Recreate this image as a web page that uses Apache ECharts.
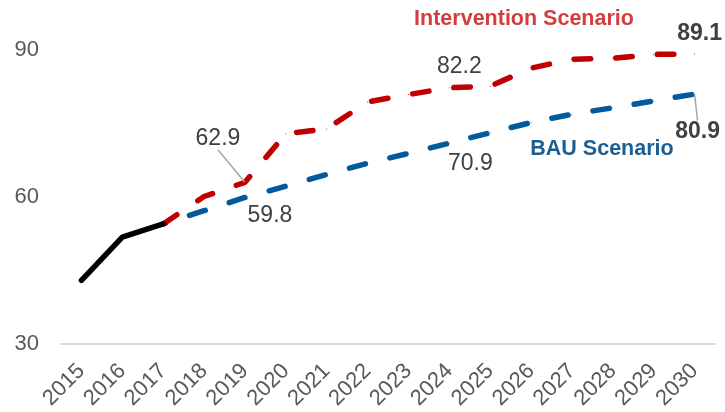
<!DOCTYPE html>
<html>
<head>
<meta charset="utf-8">
<script src="https://cdn.jsdelivr.net/npm/echarts@6/dist/echarts.min.js"></script>
<style>
html,body{margin:0;padding:0;background:#fff;}
#c{width:725px;height:412px;}
</style>
</head>
<body>
<div id="c"></div>
<script>
const years = ['2015','2016','2017','2018','2019','2020','2021','2022','2023','2024','2025','2026','2027','2028','2029','2030'];
const actual = [42.9, 51.7, 54.4, null, null, null, null, null, null, null, null, null, null, null, null, null];
const intervention = [null, null, 54.4, 60.0, 62.9, 72.8, 73.8, 79.3, 80.8, 82.2, 82.5, 86.2, 88.0, 88.2, 89.0, 89.1];
const bau = [null, null, 54.4, 57.1, 59.8, 62.1, 64.5, 66.8, 68.8, 70.9, 73.0, 75.1, 76.8, 78.1, 79.5, 80.9];
const yTicks = [30, 60, 90];
const seriesNames = ['Actual', 'Intervention Scenario', 'BAU Scenario'];

// label styling per labelled point (index -> offset, bold, leader line)
const redLabelStyle = {
  4: {off: [-27, -44], bold: false, line: true},
  9: {off: [10, -21], bold: false, line: false},
  15: {off: [5, -20], bold: true, line: false}
};
const blueLabelStyle = {
  4: {off: [25, 18], bold: false, line: false},
  9: {off: [21, 21], bold: false, line: false},
  15: {off: [3, 38], bold: true, line: true}
};

const FONT = 'Liberation Sans, Arial, sans-serif';
const RED = '#C00000';
const BLUE = '#005A9C';

function buildData(values, styles) {
  return values.map((v, i) => {
    const s = styles[i];
    if (v === null || !s) return v;
    return {
      value: v,
      label: {
        show: true,
        position: 'inside',
        formatter: v.toFixed(1),
        fontSize: 23,
        fontWeight: s.bold ? 'bold' : 'normal',
        color: '#404040',
        fontFamily: FONT
      },
      labelLine: {show: s.line, lineStyle: {color: '#A6A6A6', width: 1.5}}
    };
  });
}
function layoutFor(styles) {
  return function (p) {
    const s = styles[p.dataIndex];
    if (!s) return {};
    return {dx: s.off[0], dy: s.off[1]};
  };
}

const chart = echarts.init(document.getElementById('c'), null, {renderer: 'canvas'});
chart.setOption({
  animation: false,
  backgroundColor: '#ffffff',
  grid: {left: 61, right: 10, top: 49.5, bottom: 68.5, containLabel: false},
  xAxis: {
    type: 'category',
    data: years,
    boundaryGap: true,
    axisLine: {show: true, lineStyle: {color: '#D9D9D9', width: 2}},
    axisTick: {show: false},
    axisLabel: {rotate: 45, fontSize: 22, color: '#595959', margin: 24, fontFamily: FONT, interval: 0},
    splitLine: {show: false}
  },
  yAxis: {
    type: 'value',
    min: yTicks[0],
    max: yTicks[yTicks.length - 1],
    interval: 30,
    axisLine: {show: false},
    axisTick: {show: false},
    splitLine: {show: false},
    axisLabel: {fontSize: 22, color: '#595959', margin: 22, fontFamily: FONT}
  },
  graphic: [
    {type: 'text', x: 524, y: 19.5, style: {text: 'Intervention Scenario', fill: '#D43D3D', font: 'bold 21.5px ' + FONT, textAlign: 'center', textVerticalAlign: 'middle'}},
    {type: 'text', x: 602, y: 149.5, style: {text: 'BAU Scenario', fill: '#1B5E91', font: 'bold 21.5px ' + FONT, textAlign: 'center', textVerticalAlign: 'middle'}}
  ],
  series: [
    {
      name: seriesNames[2],
      type: 'line',
      data: buildData(bau, blueLabelStyle),
      symbol: 'circle', symbolSize: 1, showSymbol: true,
      itemStyle: {color: BLUE},
      lineStyle: {color: BLUE, width: 5.5, type: [16.5, 25.2], dashOffset: 14, cap: 'round'},
      labelLayout: layoutFor(blueLabelStyle),
      z: 2
    },
    {
      name: seriesNames[1],
      type: 'line',
      data: buildData(intervention, redLabelStyle),
      symbol: 'circle', symbolSize: 1, showSymbol: true,
      itemStyle: {color: RED},
      lineStyle: {color: RED, width: 5.5, type: [16.5, 25.2], dashOffset: 0, cap: 'round'},
      labelLayout: layoutFor(redLabelStyle),
      z: 3
    },
    {
      name: seriesNames[0],
      type: 'line',
      data: actual,
      symbol: 'none',
      lineStyle: {color: '#000000', width: 5.5, cap: 'round'},
      z: 4
    }
  ]
});
</script>
</body>
</html>
